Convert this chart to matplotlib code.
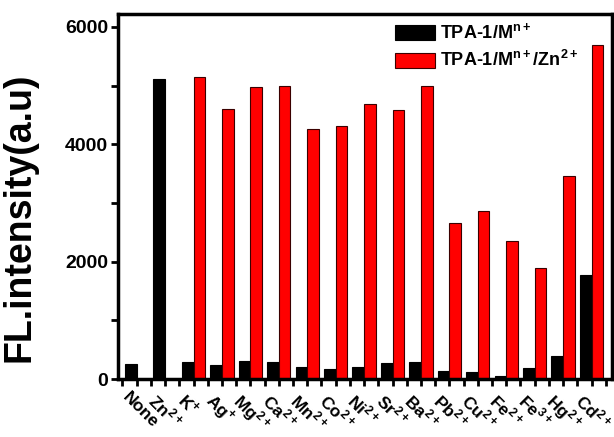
import numpy as np
import matplotlib
matplotlib.use("Agg")
import matplotlib.pyplot as plt
import matplotlib.transforms as mtransforms
from matplotlib.ticker import MultipleLocator

plt.rcParams['font.family'] = ['Liberation Sans', 'DejaVu Sans']
plt.rcParams['font.weight'] = 'bold'
plt.rcParams['mathtext.fontset'] = 'custom'
plt.rcParams['mathtext.rm'] = 'Liberation Sans:bold'
plt.rcParams['mathtext.bf'] = 'Liberation Sans:bold'
plt.rcParams['mathtext.default'] = 'bf'

# data
ions = ["None", "Zn$^{2+}$", "K$^{+}$", "Ag$^{+}$", "Mg$^{2+}$", "Ca$^{2+}$",
        "Mn$^{2+}$", "Co$^{2+}$", "Ni$^{2+}$", "Sr$^{2+}$", "Ba$^{2+}$",
        "Pb$^{2+}$", "Cu$^{2+}$", "Fe$^{2+}$", "Fe$^{3+}$", "Hg$^{2+}$", "Cd$^{2+}$"]
tpa_m = [254, 5105, 283, 237, 311, 288, 203, 170, 203, 265, 283,
         136, 119, 51, 192, 390, 1780]
tpa_m_zn = [0, 0, 5140, 4595, 4974, 4991, 4264, 4310, 4680, 4583, 4986,
            2666, 2870, 2344, 1893, 3452, 5690]

x = np.arange(len(ions))
w = 0.41

fig = plt.figure(figsize=(6.14, 4.37), dpi=100)
ax = fig.add_axes([0.192, 0.1327, 0.8047, 0.8353])

ax.bar(x, tpa_m, width=-w, align='edge', color='black', edgecolor='black',
       linewidth=0.8, label="TPA-1/M$^{n+}$")
ax.bar(x, tpa_m_zn, width=w, align='edge', color='#ff0000', edgecolor='#3a0000',
       linewidth=0.8, label="TPA-1/M$^{n+}$/Zn$^{2+}$")

ax.set_xlim(-0.66, 16.72)
ax.set_ylim(0, 6220)

ax.yaxis.set_major_locator(MultipleLocator(2000))
ax.yaxis.set_minor_locator(MultipleLocator(1000))
ax.set_xticks(x)
ax.set_xticks(np.arange(-0.5, 17, 1.0), minor=True)
ax.set_xticklabels([])
ax.tick_params(axis='both', which='both', direction='out', width=2, length=5)
ax.tick_params(axis='y', labelsize=14, pad=2)
for lab in ax.get_yticklabels():
    lab.set_fontweight('bold')

# rotated category labels, nudged a bit left of each tick
shift = mtransforms.ScaledTranslation(-6 / 100, -0.11, fig.dpi_scale_trans)
for xi, name in zip(x, ions):
    ax.text(xi, 0, name, transform=ax.get_xaxis_transform() + shift,
            rotation=-45, ha='left', va='top', rotation_mode='anchor',
            fontsize=12.5, fontweight='bold')

for s in ax.spines.values():
    s.set_linewidth(2.5)

ax.set_ylabel("FL.intensity(a.u)", fontsize=27, fontweight='bold')
ax.yaxis.set_label_coords(-0.162, 0.444)

ax.legend(loc='upper left', bbox_to_anchor=(0.535, 1.012), frameon=False,
          fontsize=13, handlelength=2.2, handleheight=0.9, handletextpad=0.3,
          labelspacing=0.45, borderaxespad=0.3)

fig.savefig("out.png", dpi=100)
